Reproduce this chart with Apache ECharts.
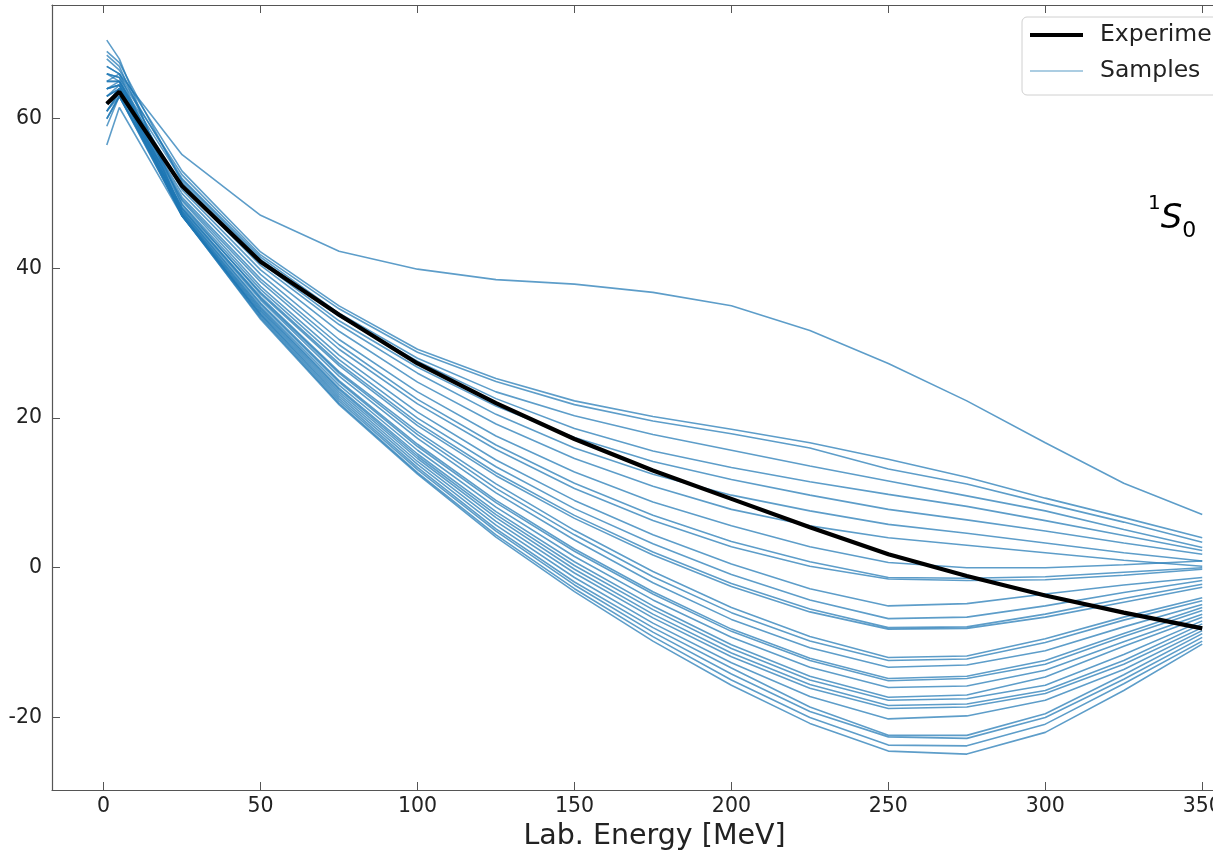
<!DOCTYPE html>
<html>
<head>
<meta charset="utf-8">
<script src="https://cdn.jsdelivr.net/npm/echarts@6/dist/echarts.min.js"></script>
<style>
  html, body { margin: 0; padding: 0; background: #fff; }
  #chart { width: 1213px; height: 852px; }
</style>
</head>
<body>
<div id="chart"></div>
<script>
// lab energies (MeV)
const energies = [1, 5, 25, 50, 75, 100, 125, 150, 175, 200, 225, 250, 275, 300, 325, 350]

// 1S0 phase shift, experiment (deg)
const experiment = [62.0, 63.6, 51.0, 40.9, 33.8, 27.3, 22.0, 17.2, 13.0, 9.2, 5.4, 1.8, -1.1, -3.7, -6.0, -8.1]

const samples = [
  [65.0, 66.0, 55.2, 47.1, 42.3, 39.9, 38.5, 37.9, 36.8, 35.0, 31.7, 27.3, 22.3, 16.7, 11.3, 7.1],
  [68.0, 66.5, 53.0, 42.2, 35.0, 29.2, 25.3, 22.3, 20.2, 18.5, 16.7, 14.5, 12.1, 9.3, 6.7, 4.0],
  [66.0, 65.5, 52.5, 41.8, 34.6, 28.8, 24.9, 21.8, 19.6, 17.9, 16.0, 13.2, 11.2, 8.6, 6.1, 3.4],
  [67.0, 66.0, 52.0, 41.5, 34.0, 28.0, 23.5, 20.3, 17.8, 15.7, 13.6, 11.6, 9.6, 7.6, 5.1, 2.7],
  [64.0, 65.0, 51.8, 41.2, 33.6, 27.6, 22.6, 18.6, 15.6, 13.4, 11.5, 9.8, 8.2, 6.3, 4.3, 2.3],
  [69.0, 67.5, 51.5, 40.8, 33.0, 26.8, 21.6, 17.4, 14.2, 11.8, 9.7, 7.8, 6.4, 4.9, 3.3, 1.8],
  [63.0, 64.5, 51.0, 40.4, 32.5, 26.0, 20.5, 16.0, 12.5, 9.7, 7.6, 5.8, 4.6, 3.3, 2.0, 0.9],
  [66.0, 65.0, 50.5, 39.8, 31.6, 24.8, 19.2, 14.6, 10.9, 7.8, 5.6, 4.0, 3.0, 2.0, 1.0, 0.2],
  [62.0, 64.0, 50.0, 39.2, 30.5, 23.5, 17.6, 12.8, 8.8, 5.6, 2.8, 0.7, 0.0, 0.0, 0.4, 0.9],
  [64.0, 64.5, 49.5, 38.6, 29.8, 22.5, 16.4, 11.3, 7.0, 3.5, 0.8, -1.3, -1.4, -1.2, -0.6, 0.0],
  [61.0, 63.5, 49.2, 38.2, 29.2, 21.9, 15.8, 10.6, 6.3, 2.8, 0.2, -1.5, -1.7, -1.6, -1.0, -0.2],
  [65.0, 65.0, 49.0, 37.6, 28.4, 20.8, 14.4, 9.0, 4.4, 0.5, -2.8, -5.1, -4.8, -3.5, -2.3, -1.3],
  [63.0, 64.0, 48.6, 37.2, 27.8, 20.0, 13.5, 7.9, 3.2, -0.9, -4.3, -6.8, -6.6, -5.1, -3.3, -1.7],
  [60.0, 63.0, 48.2, 36.8, 27.3, 19.4, 12.7, 7.0, 2.1, -2.1, -5.5, -8.0, -7.9, -6.2, -4.1, -2.2],
  [68.5, 67.0, 48.5, 36.6, 27.0, 19.0, 12.3, 6.6, 1.7, -2.5, -5.9, -8.2, -8.1, -6.6, -4.6, -2.6],
  [62.0, 64.0, 48.0, 36.2, 26.2, 18.2, 11.2, 5.0, -0.5, -5.3, -9.2, -12.0, -11.8, -9.5, -6.6, -4.0],
  [65.0, 65.0, 48.0, 36.0, 26.0, 17.8, 10.6, 4.4, -1.2, -6.0, -9.8, -12.4, -12.2, -10.0, -7.0, -4.4],
  [59.0, 63.0, 47.8, 35.8, 25.6, 17.3, 10.0, 3.7, -2.0, -6.9, -10.7, -13.3, -13.0, -11.1, -7.9, -4.9],
  [64.0, 64.5, 47.6, 35.4, 25.0, 16.5, 9.0, 2.5, -3.2, -8.2, -12.1, -14.8, -14.5, -12.4, -8.8, -5.3],
  [67.0, 66.0, 47.6, 35.2, 24.8, 16.2, 8.7, 2.2, -3.5, -8.5, -12.4, -15.1, -14.8, -12.9, -9.2, -5.7],
  [62.0, 64.0, 47.4, 34.9, 24.4, 15.7, 8.1, 1.5, -4.3, -9.3, -13.3, -16.0, -15.8, -13.7, -9.9, -6.2],
  [60.0, 63.0, 47.3, 34.7, 24.0, 15.2, 7.5, 0.8, -5.1, -10.3, -14.5, -17.3, -17.0, -14.6, -10.5, -6.6],
  [70.5, 68.0, 47.2, 34.5, 23.8, 14.9, 7.1, 0.3, -5.6, -10.8, -15.0, -17.7, -17.5, -15.7, -11.6, -7.1],
  [63.0, 64.0, 47.1, 34.3, 23.5, 14.6, 6.7, -0.2, -6.2, -11.4, -15.6, -18.4, -18.2, -16.4, -12.4, -7.5],
  [61.0, 63.5, 47.0, 34.1, 23.2, 14.2, 6.2, -0.7, -6.7, -11.9, -16.1, -18.8, -18.6, -16.8, -12.9, -8.0],
  [66.0, 65.5, 47.0, 33.9, 22.9, 13.8, 5.7, -1.3, -7.4, -12.7, -17.2, -20.2, -19.8, -17.7, -13.6, -8.4],
  [62.0, 64.0, 47.0, 33.8, 22.6, 13.4, 5.2, -1.9, -8.0, -13.4, -18.6, -22.4, -22.4, -19.5, -14.3, -8.8],
  [64.0, 64.5, 47.2, 33.6, 22.3, 13.1, 4.9, -2.3, -8.6, -14.2, -19.2, -22.6, -22.8, -20.0, -14.9, -9.3],
  [56.5, 61.5, 47.0, 33.4, 22.0, 12.7, 4.4, -2.8, -9.2, -15.0, -20.0, -23.7, -23.8, -20.9, -15.5, -9.8],
  [61.0, 63.0, 47.1, 33.2, 21.8, 12.5, 4.1, -3.2, -9.8, -15.7, -20.8, -24.5, -24.9, -22.0, -16.4, -10.2]
]

const xTicks = [0, 50, 100, 150, 200, 250, 300, 350]
const yTicks = [-20, 0, 20, 40, 60]

const chart = echarts.init(document.getElementById('chart'))

const font = 'DejaVu Sans'
const axisColor = '#555'
const toPoints = ys => energies.map((e, i) => [e, ys[i]])

// matplotlib-style spine: no onZero, ticks pointing in
const spine = { show: true, onZero: false, lineStyle: { color: axisColor, width: 1.2 } }
const tickStyle = { inside: true, length: 8, lineStyle: { color: axisColor, width: 1 } }

const series = samples.map(ys => ({
  name: 'Samples',
  type: 'line',
  data: toPoints(ys),
  symbol: 'none',
  silent: true,
  z: 2,
  lineStyle: { width: 1.6, color: 'rgba(31, 119, 180, 0.72)' },
  itemStyle: { color: 'rgba(31, 119, 180, 0.72)' }
}))

series.push({
  name: 'Experiment',
  type: 'line',
  data: toPoints(experiment),
  symbol: 'none',
  silent: true,
  z: 5,
  lineStyle: { width: 4.2, color: '#000' },
  itemStyle: { color: '#000' }
})

const option = {
  animation: false,
  backgroundColor: '#fff',
  // plot runs past the right edge of the picture, as in the cropped original
  grid: { left: 52, top: 5, right: -44, bottom: 62, containLabel: false, outerBoundsMode: 'none' },
  legend: {
    orient: 'vertical',
    left: 1022,
    top: 17,
    padding: [5, 10, 11, 8],
    itemWidth: 53,
    itemHeight: 14,
    itemGap: 10,
    backgroundColor: 'rgba(255, 255, 255, 0.85)',
    borderColor: '#d0d0d0',
    borderWidth: 1,
    borderRadius: 5,
    textStyle: { fontFamily: font, fontSize: 23.5, color: '#222', lineHeight: 26, padding: [0, 0, 0, 12] },
    data: [
      { name: 'Experiment', icon: 'path://M0,0H53V4H0Z', itemStyle: { color: '#000' } },
      { name: 'Samples', icon: 'path://M0,0H53V1.6H0Z', itemStyle: { color: '#8fbcd8' } }
    ]
  },
  graphic: [{
    type: 'text',
    left: 1148,
    top: 194,
    style: {
      text: '{a|1}{b|S}{c|0}',
      rich: {
        a: { fontFamily: font, fontSize: 20, color: '#111', verticalAlign: 'top', lineHeight: 50 },
        b: { fontFamily: font, fontSize: 34, fontStyle: 'italic', color: '#111', lineHeight: 50 },
        c: { fontFamily: font, fontSize: 22, color: '#111', verticalAlign: 'bottom', lineHeight: 50, padding: [0, 0, 2, 0] }
      }
    }
  }],
  xAxis: [
    {
      type: 'value',
      min: -16.45,
      max: 367.45,
      name: 'Lab. Energy [MeV]',
      nameLocation: 'middle',
      nameGap: 28,
      nameTextStyle: { fontFamily: font, fontSize: 28.5, color: '#222' },
      axisLine: spine,
      axisTick: { ...tickStyle, customValues: xTicks },
      axisLabel: { customValues: xTicks, fontFamily: font, fontSize: 20.5, color: '#222', margin: 6 },
      splitLine: { show: false }
    },
    {
      type: 'value',
      position: 'top',
      min: -16.45,
      max: 367.45,
      axisLine: spine,
      axisTick: { ...tickStyle, customValues: xTicks },
      axisLabel: { show: false },
      splitLine: { show: false }
    }
  ],
  yAxis: [
    {
      type: 'value',
      min: -29.7,
      max: 75.2,
      axisLine: spine,
      axisTick: { ...tickStyle, customValues: yTicks },
      axisLabel: { customValues: yTicks, fontFamily: font, fontSize: 20.5, color: '#222', margin: 10 },
      splitLine: { show: false }
    },
    {
      type: 'value',
      position: 'right',
      min: -29.7,
      max: 75.2,
      axisLine: spine,
      axisTick: { ...tickStyle, customValues: yTicks },
      axisLabel: { show: false },
      splitLine: { show: false }
    }
  ],
  series
}

chart.setOption(option)
</script>
</body>
</html>
